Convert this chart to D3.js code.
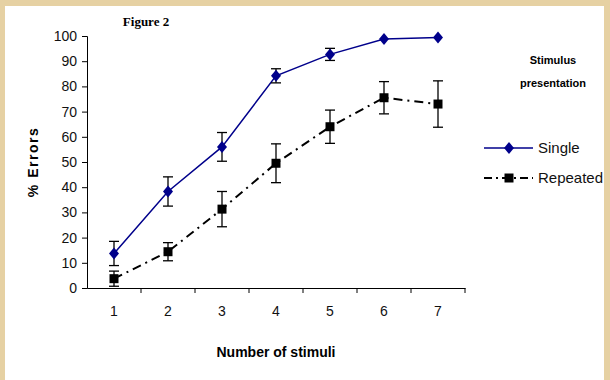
<!DOCTYPE html>
<html>
<head>
<meta charset="utf-8">
<script src="https://cdn.jsdelivr.net/npm/d3@7"></script>
<style>
  body { margin: 0; background: #e6d1a3; }
  svg { display: block; }
</style>
</head>
<body>
<svg id="chart" width="610" height="380"></svg>
<script>
// data
var stimuli = [1, 2, 3, 4, 5, 6, 7];
var singleMean = [13.7, 38.3, 56, 84.2, 92.7, 98.8, 99.4];
var singleErr = [4.8, 5.8, 5.7, 2.8, 2.4, 0, 0];
var repeatedMean = [3.7, 14.4, 31.3, 49.5, 64, 75.5, 73];
var repeatedErr = [3.0, 3.6, 7.0, 7.7, 6.6, 6.4, 9.2];
var yTicks = [0, 10, 20, 30, 40, 50, 60, 70, 80, 90, 100];

var svg = d3.select("#chart");

// white page on the parchment
svg.append("rect")
    .attr("x", 5).attr("y", 6)
    .attr("width", 599).attr("height", 374)
    .attr("fill", "#fff");

var x = d3.scaleBand().domain(stimuli).range([87, 465]);
var y = d3.scaleLinear().domain([0, 100]).range([288, 36]);

// y axis
var yAxis = svg.append("g")
    .attr("transform", "translate(87,0)")
    .call(d3.axisLeft(y).tickValues(yTicks).tickSize(5).tickPadding(5));
// x axis, ticks between categories
var xAxis = svg.append("g")
    .attr("transform", "translate(0,288)")
    .call(d3.axisBottom(x).tickSize(0).tickPadding(18));
xAxis.selectAll(".between")
    .data(stimuli)
    .join("line")
    .attr("x1", d => x(d) + x.bandwidth())
    .attr("x2", d => x(d) + x.bandwidth())
    .attr("y1", 0).attr("y2", 5)
    .attr("stroke", "#000");

[yAxis, xAxis].forEach(a => {
    a.select(".domain").attr("stroke", "#000");
    a.selectAll("text")
        .attr("font-family", "Liberation Sans, Arial, sans-serif")
        .attr("font-size", 14)
        .attr("fill", "#111");
    a.selectAll(".tick line").attr("stroke", "#000");
});

var cx = d => x(d) + x.bandwidth() / 2;

function drawSeries(means, errs, color, dash, marker) {
    var pts = stimuli.map((s, i) => ({ s: s, m: means[i], e: errs[i] }));
    var g = svg.append("g");
    g.append("path")
        .datum(pts)
        .attr("fill", "none")
        .attr("stroke", color)
        .attr("stroke-width", dash ? 2 : 1.5)
        .attr("stroke-dasharray", dash)
        .attr("d", d3.line().x(d => cx(d.s)).y(d => y(d.m)));

    // error bars
    var eb = g.selectAll(".eb").data(pts.filter(d => d.e > 0)).join("g");
    eb.append("line")
        .attr("x1", d => cx(d.s)).attr("x2", d => cx(d.s))
        .attr("y1", d => y(d.m + d.e)).attr("y2", d => y(d.m - d.e));
    eb.append("line")
        .attr("x1", d => cx(d.s) - 5).attr("x2", d => cx(d.s) + 5)
        .attr("y1", d => y(d.m + d.e)).attr("y2", d => y(d.m + d.e));
    eb.append("line")
        .attr("x1", d => cx(d.s) - 5).attr("x2", d => cx(d.s) + 5)
        .attr("y1", d => y(d.m - d.e)).attr("y2", d => y(d.m - d.e));
    eb.selectAll("line").attr("stroke", "#000").attr("stroke-width", 1.3);

    g.selectAll(".mk").data(pts).join("path")
        .attr("transform", d => `translate(${cx(d.s)},${y(d.m)})`)
        .attr("d", marker)
        .attr("fill", color);
}

var diamond = "M0,-6L5,0L0,6L-5,0Z";
var square = "M-4.5,-4.5H4.5V4.5H-4.5Z";
drawSeries(singleMean, singleErr, "#00008b", null, diamond);
drawSeries(repeatedMean, repeatedErr, "#000", "9,5,2,5", square);

// legend
var legend = [
    { name: "Single", color: "#00008b", dash: null, marker: diamond, y: 148 },
    { name: "Repeated", color: "#000", dash: "8,4,2,4", marker: square, y: 178 }
];
var lg = svg.append("g").selectAll("g").data(legend).join("g")
    .attr("transform", d => `translate(0,${d.y})`);
lg.append("line")
    .attr("x1", 484).attr("x2", 533)
    .attr("stroke", d => d.color)
    .attr("stroke-width", d => d.dash ? 2 : 1.5)
    .attr("stroke-dasharray", d => d.dash);
lg.append("path")
    .attr("transform", "translate(509,0)")
    .attr("d", d => d.marker)
    .attr("fill", d => d.color);
lg.append("text")
    .attr("x", 538).attr("dy", "0.35em")
    .attr("font-family", "Liberation Sans, Arial, sans-serif")
    .attr("font-size", 15)
    .attr("fill", "#111")
    .text(d => d.name);

// titles
var bold = "Liberation Sans, Arial, sans-serif";
svg.append("text")
    .attr("x", 146).attr("y", 26)
    .attr("text-anchor", "middle")
    .attr("font-family", "Liberation Serif, Times New Roman, serif")
    .attr("font-weight", "bold").attr("font-size", 13)
    .text("Figure 2");
svg.append("text")
    .attr("x", 553).attr("y", 64)
    .attr("text-anchor", "middle")
    .attr("font-family", bold).attr("font-weight", "bold").attr("font-size", 11)
    .text("Stimulus");
svg.append("text")
    .attr("x", 553).attr("y", 87)
    .attr("text-anchor", "middle")
    .attr("font-family", bold).attr("font-weight", "bold").attr("font-size", 11)
    .text("presentation");
svg.append("text")
    .attr("x", 276).attr("y", 357)
    .attr("text-anchor", "middle")
    .attr("font-family", bold).attr("font-weight", "bold").attr("font-size", 14)
    .text("Number of stimuli");
svg.append("text")
    .attr("transform", "translate(38,162) rotate(-90)")
    .attr("text-anchor", "middle")
    .attr("font-family", bold).attr("font-weight", "bold").attr("font-size", 14)
    .attr("letter-spacing", 1.5)
    .text("% Errors");
</script>
</body>
</html>
